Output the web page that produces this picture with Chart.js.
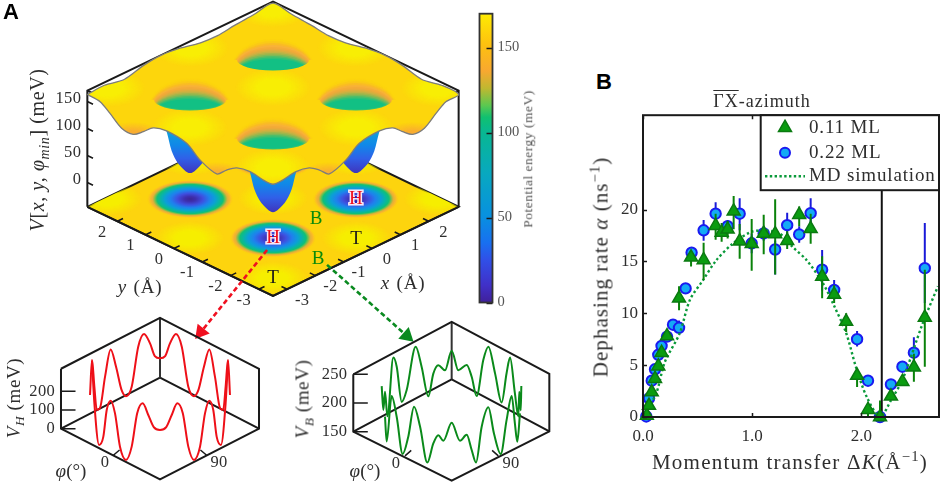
<!doctype html>
<html lang="en">
<head>
<meta charset="utf-8">
<title>Potential energy surface and dephasing rate</title>
<script src="https://cdn.jsdelivr.net/npm/chart.js@4"></script>
<style>
  html, body { margin: 0; background: #fff; overflow: hidden; }
  #page { position: relative; width: 941px; height: 484px; font-family: 'Liberation Serif', serif; color: #2e2e2e; }
  #page canvas { position: absolute; }
  .t { position: absolute; white-space: nowrap; line-height: 1; }
  .rot { transform: translate(-50%, -50%) rotate(-90deg); }
  .mid { transform: translate(-50%, -50%); }
  .letter { font-family: 'Liberation Sans', sans-serif; font-weight: bold; font-size: 22px; color: #000; }
  sup, sub { font-size: 70%; line-height: 0; }
  i { font-style: italic; }
</style>
</head>
<body>
<div id="page">
  <canvas id="surf" width="470" height="484" style="left:0;top:0"></canvas>
  <canvas id="bar" width="80" height="320" style="left:470px;top:0"></canvas>
  <canvas id="vh" width="280" height="174" style="left:0;top:310px"></canvas>
  <canvas id="vb" width="285" height="174" style="left:270px;top:310px"></canvas>
  <canvas id="rate" width="351" height="384" style="left:590px;top:100px"></canvas>

  <div class="t letter" style="left:3px;top:1px">A</div>
  <div class="t letter" style="left:596px;top:71px">B</div>
  <div class="t rot" style="left:37px;top:150px;font-size:20px;letter-spacing:.6px"><i>V</i>[<i>x, y, φ<sub>min</sub></i>] (meV)</div>
  <div class="t rot" style="left:528px;top:159px;font-size:13.5px;letter-spacing:.5px;color:#555">Potential energy (meV)</div>
  <div class="t rot" style="left:13px;top:398px;font-size:19px;letter-spacing:.6px"><i>V<sub>H</sub></i> (meV)</div>
  <div class="t rot" style="left:302px;top:399px;font-size:19px;letter-spacing:.6px"><i>V<sub>B</sub></i> (meV)</div>
  <div class="t mid" style="left:71px;top:470px;font-size:19px"><i>φ</i>(°)</div>
  <div class="t mid" style="left:365px;top:470px;font-size:19px"><i>φ</i>(°)</div>
  <div class="t mid" style="left:762px;top:101px;font-size:18px;letter-spacing:1px"><span style="text-decoration:overline">ΓX</span>-azimuth</div>
  <div class="t mid" style="left:790px;top:462px;font-size:21px;letter-spacing:1.25px">Momentum transfer Δ<i>K</i>(Å<sup>−1</sup>)</div>
  <div class="t rot" style="left:601px;top:267px;font-size:21px;letter-spacing:1.05px">Dephasing rate <i>α</i> (ns<sup>−1</sup>)</div>
</div>

<script>
// ---- panel A: surface
const axisMin = -3.5, axisMax = 3.06, floorV = -45, topV = 170
const meVperAngstrom = 0.0397

const vTicks = [0, 50, 100, 150]
const gridTicks = [-3, -2, -1, 0, 1, 2]

// surface height along the four box edges
const leftEdgeY = [3.06, 2.61, 2.26, 1.85, 1.44, 1.08, 0.73, 0.26, -0.45, -0.92, -1.51, -1.86, -2.22, -2.69, -3.16, -3.5]
const leftEdgeV = [163, 161, 148, 131, 130, 144, 160, 166, 161, 142, 131, 147, 160, 165, 161, 162]
const rightEdgeX = [-3.5, -3.16, -2.69, -2.22, -1.86, -1.51, -0.92, -0.45, 0.26, 0.73, 1.08, 1.44, 1.85, 2.26, 2.61, 3.06]
const rightEdgeV = [162, 161, 165, 160, 147, 131, 142, 161, 166, 160, 144, 130, 131, 148, 161, 163]
const backEdgeS = [-3.5, -2.9, -2.2, -1.5, -0.9, -0.2, 0.5, 1.1, 1.7, 2.4, 3.06]
const backLeftV = [163, 165, 158, 167, 170, 166, 158, 156, 160, 163, 167]
const backRightV = [163, 165, 158, 167, 170, 166, 158, 156, 160, 163, 167]

// one well seen below the surface: offset across the box and height
const dipU = [-1.3, -0.82, -0.65, -0.41, 0, 0.41, 0.65, 0.82, 1.3]
const dipV = [150, 78, 44, 20, 3, 20, 44, 78, 150]

// sites on the x, y plane
const wellX = [-1.37, 1.53, -1.4, 1.53]
const wellY = [-1.37, -1.4, 1.53, 1.53]
const topSiteX = [-2.85, 0.1, 3.0, -2.85, 0.1, 3.0, -2.85, 0.1, 3.0]
const topSiteY = [-2.85, -2.85, -2.85, 0.1, 0.1, 0.1, 3.0, 3.0, 3.0]
const edgeLowX = [-3.5, -3.5, 1.44, -1.51]
const edgeLowY = [1.44, -1.51, -3.5, -3.5]
const wellTopV = 148

const redArrowX = [-1.915, -6.1], redArrowY = [-1.705, -3.55]
const greenArrowX = [-1.4, -2.6], greenArrowY = [-3.31, -7.33]

// colour bar, meV to colour
const barLevels = [0, 10, 25, 35, 50, 75, 100, 108, 115, 125, 135, 150, 170]
const barColors = ['#40209a', '#4030c8', '#3050e8', '#1870f0', '#0890e0', '#08a8c0', '#08b890', '#10c070', '#5cc850', '#c0b830', '#f8a830', '#fdc010', '#ffef00']
const barTicks = [0, 50, 100, 150]

// ---- angular cuts
const hPhiBack = [-22.5, -20.6, -18.3, -16, -13, -8, -2.6, 2.6, 8, 12.2, 17.7, 24, 29.6, 35.4, 40, 45, 50, 54.6, 60.4, 66, 72.3, 77.8, 82, 87.4, 92.6, 98, 103, 106, 108.3, 110.6, 112.5]
const hBack = [100, 282, 132, 2, 2, 157, 287, 180, 39, -5, 30, 226, 278, 211, 130, 104, 130, 211, 278, 226, 30, -5, 39, 180, 287, 157, 2, 2, 132, 282, 100]
const hPhiFront = [-20.6, -18.3, -13.8, -9.7, -6.4, -2.6, 1.6, 6.4, 12.2, 17.7, 23, 28.3, 33.7, 39, 45, 51, 56.3, 61.7, 67, 72.3, 77.8, 83.6, 88.4, 92.6, 96.4, 99.7, 103.8, 108.3, 110.6]
const hFront = [448, 226, 16, 71, 224, 285, 229, 64, 10, 97, 291, 359, 312, 262, 264, 262, 312, 359, 291, 97, 10, 64, 229, 285, 224, 71, 16, 226, 448]

const bPhiBack = [-22.5, -20.9, -19.3, -17, -11.3, -8, -3.2, 1.6, 10.3, 16, 22.5, 27.3, 32.1, 38.6, 45, 51.4, 59.5, 64.3, 69.1, 75.5, 80.4, 86.8, 93.2, 98, 101.3, 106, 109.3, 110.2, 111.6, 112.2]
const bBack = [203, 160, 190, 145, 242, 223, 157, 173, 240, 200, 142, 177, 187, 172, 200, 172, 189, 173, 144, 213, 241, 201, 156, 212, 242, 184, 147, 191, 160, 203]
const bPhiFront = [-19.3, -17.7, -12.9, -8, -2.3, 3.2, 8.7, 14.5, 21.5, 27.3, 32.1, 37, 45, 53, 59.5, 64.3, 68.5, 73.9, 80.4, 85.8, 92.3, 98, 102.9, 106, 108.3, 110.9]
const bFront = [200, 158, 242, 210, 151, 187, 244, 215, 159, 198, 217, 212, 251, 212, 216, 185, 159, 216, 244, 193, 151, 205, 242, 191, 157, 204]

// ---- panel B
const rateTicksX = [0, 1, 2]
const rateTicksY = [0, 5, 10, 15, 20]
const boundaryK = 2.186

const k22 = [0.03, 0.055, 0.08, 0.11, 0.14, 0.17, 0.22, 0.275, 0.33, 0.39, 0.445, 0.555, 0.665, 0.775, 0.885, 0.995, 1.105, 1.21, 1.32, 1.43, 1.535, 1.64, 1.75, 1.96, 2.06, 2.17, 2.27, 2.375, 2.48, 2.58]
const rate22 = [0.05, 1.8, 3.5, 4.6, 6.0, 6.85, 7.75, 8.9, 8.6, 12.4, 15.85, 18.0, 19.6, 18.4, 19.6, 16.75, 17.7, 16.15, 18.5, 17.6, 19.65, 14.2, 12.25, 7.5, 3.5, 0, 3.15, 4.85, 6.2, 14.35]
const lo22 = [0, 1.6, 3.3, 4.4, 5.8, 6.6, 7.5, 8.6, 8.2, 12.1, 15.3, 17.0, 18.5, 17.8, 18.0, 15.8, 17.0, 13.75, 17.3, 16.8, 18.0, 12.2, 11.3, 6.8, 3.2, 0, 2.9, 4.6, 4.8, 11.0]
const hi22 = [0.2, 2.0, 3.7, 4.8, 6.2, 7.1, 8.0, 9.2, 9.3, 12.7, 16.4, 19.0, 20.7, 19.0, 21.1, 17.7, 18.4, 17.0, 19.7, 18.4, 21.1, 16.1, 13.2, 8.3, 3.8, 0.3, 3.4, 5.1, 7.7, 18.7]

const k11 = [0.035, 0.055, 0.08, 0.11, 0.14, 0.17, 0.22, 0.33, 0.44, 0.555, 0.665, 0.72, 0.775, 0.83, 0.885, 0.995, 1.105, 1.21, 1.32, 1.43, 1.535, 1.64, 1.75, 1.86, 1.96, 2.06, 2.17, 2.27, 2.375, 2.48, 2.58]
const rate11 = [0.15, 1.1, 2.4, 3.7, 4.9, 6.2, 7.8, 11.45, 15.4, 15.15, 18.45, 17.8, 18.1, 19.85, 16.95, 16.7, 17.7, 17.65, 17.0, 19.5, 18.15, 13.55, 11.8, 9.2, 4.0, 0.7, 0, 2.0, 3.4, 4.8, 9.6]
const lo11 = [0, 0.9, 2.2, 3.5, 4.7, 6.0, 7.6, 10.3, 14.5, 13.2, 17.1, 16.9, 17.2, 18.1, 15.25, 14.1, 15.7, 13.75, 16.2, 18.4, 16.7, 11.45, 11.0, 8.2, 2.9, 0, 0, 1.8, 3.2, 3.4, 4.85]
const hi11 = [0.3, 1.3, 2.6, 3.9, 5.1, 6.4, 8.0, 12.6, 16.0, 16.8, 19.6, 18.7, 18.9, 21.3, 18.6, 19.1, 19.5, 21, 17.9, 20.3, 19.6, 15.5, 12.7, 10, 4.7, 1.3, 1.6, 2.2, 3.6, 6.1, 14.2]

const kMd = [0, 0.12, 0.2, 0.335, 0.43, 0.55, 0.67, 0.82, 0.98, 1.1, 1.25, 1.37, 1.5, 1.65, 1.755, 1.86, 1.95, 2.05, 2.17, 2.27, 2.38, 2.56, 2.7]
const rateMd = [0, 2.25, 5.3, 8.05, 11.3, 13.2, 15.1, 16.7, 17.8, 18, 17.7, 16.4, 15.1, 12.85, 10.6, 8.1, 4.8, 1.9, 0, 1.6, 3.7, 9, 12.6]

const legendRows = ['0.11 ML', '0.22 ML', 'MD simulation']

// ---- shared stuff
const serif = 'Liberation Serif'
const textColor = '#2e2e2e'
const gap = { x: null, y: null }

function segments(list) {
  const out = []
  list.forEach(s => out.push(...s, gap))
  return out
}

function paintOrder(datasets) {
  datasets.forEach((d, i) => { d.order = datasets.length - i })
  return datasets
}

function hiddenScale(min, max) {
  return { type: 'linear', display: false, min, max }
}

function drawText(ctx, text, x, y, font, color, align, spacing) {
  ctx.save()
  ctx.font = font
  ctx.fillStyle = color || textColor
  ctx.textAlign = align || 'center'
  ctx.textBaseline = 'middle'
  if (spacing) ctx.letterSpacing = spacing
  ctx.fillText(text, x, y)
  ctx.restore()
}

// lets a dataset be clipped to the outline of another one
const clipPlugin = {
  id: 'clipTo',
  beforeDatasetDraw(chart, args) {
    const ds = chart.data.datasets[args.index]
    if (ds.clipTo === undefined) return
    const pts = chart.getDatasetMeta(ds.clipTo).data
    const ctx = chart.ctx
    ctx.save()
    ctx.beginPath()
    pts.forEach((p, i) => {
      if (i === 0) ctx.moveTo(p.x, p.y)
      else if (pts[i - 1].cp2x !== undefined && p.cp1x !== undefined) ctx.bezierCurveTo(pts[i - 1].cp2x, pts[i - 1].cp2y, p.cp1x, p.cp1y, p.x, p.y)
      else ctx.lineTo(p.x, p.y)
    })
    ctx.closePath()
    ctx.clip()
  },
  afterDatasetDraw(chart, args) {
    if (chart.data.datasets[args.index].clipTo !== undefined) chart.ctx.restore()
  }
}
Chart.register(clipPlugin)

function spriteCanvas(w, h, paint) {
  const c = document.createElement('canvas')
  c.width = w
  c.height = h
  paint(c.getContext('2d'), w, h)
  return c
}

function softSpot(w, h, color, edge) {
  return spriteCanvas(w, h, ctx => {
    ctx.translate(w / 2, h / 2)
    ctx.scale(1, h / w)
    const g = ctx.createRadialGradient(0, 0, 0, 0, 0, w / 2)
    g.addColorStop(0, color)
    g.addColorStop(0.4, color)
    g.addColorStop(1, edge)
    ctx.fillStyle = g
    ctx.beginPath()
    ctx.arc(0, 0, w / 2, 0, Math.PI * 2)
    ctx.fill()
  })
}

const floorWell = spriteCanvas(86, 38, (ctx, w, h) => {
  ctx.translate(w / 2, h / 2)
  ctx.scale(1, h / w)
  const g = ctx.createRadialGradient(0, 0, 0, 0, 0, w / 2)
  const stops = [[0, '#3b2795'], [0.13, '#3e2fae'], [0.3, '#3f4fe0'], [0.45, '#2080ee'], [0.58, '#0c9fd8'], [0.68, '#08b4a8'], [0.77, '#10c078'], [0.82, '#78c04c'], [0.87, '#e4b038'], [0.93, '#fbba28'], [1, 'rgba(253,205,20,0)']]
  stops.forEach(s => g.addColorStop(s[0], s[1]))
  ctx.fillStyle = g
  ctx.beginPath()
  ctx.arc(0, 0, w / 2, 0, Math.PI * 2)
  ctx.fill()
})

// nested rings, widest first, from the rim down to the green floor of the well
const wellRings = [
  [42, 32, 'rgba(252,205,20,0.25)'], [41.5, 30, 'rgba(250,195,30,0.55)'], [41, 28, 'rgba(249,185,40,0.85)'],
  [40, 26, '#f8b238'], [39.5, 24, '#f5ab38'], [39, 22.5, '#ecaa3a'], [38.5, 21, '#dcae3e'], [38, 19.5, '#c4b244'],
  [37.5, 18, '#a4b64a'], [37, 16.5, '#7cba58'], [36, 15, '#50be68'], [35, 13.5, '#2cc078'], [34, 12, '#12c084']
]

const surfaceWell = spriteCanvas(84, 34, ctx => {
  wellRings.forEach(r => {
    ctx.fillStyle = r[2]
    ctx.beginPath()
    ctx.ellipse(42, 33, r[0], r[1], 0, 0, Math.PI * 2)
    ctx.fill()
  })
  // the near lip has a hard edge: wipe what lies below its arc
  ctx.save()
  ctx.beginPath()
  ctx.rect(0, 22, 84, 12)
  ctx.clip()
  ctx.globalCompositeOperation = 'destination-out'
  ctx.beginPath()
  ctx.rect(0, 22, 84, 12)
  ctx.ellipse(42, 22, 36, 10.5, 0, 0, Math.PI * 2)
  ctx.fill('evenodd')
  ctx.restore()
})

// ---- surface chart
const pxU = 28.3, pxV = 13.6, apexU = 273, apexV = 296

function project(x, y, V) {
  return { x: x - y, y: x + y + 7 + (V - floorV) * meVperAngstrom }
}

const floorOutline = [project(axisMin, axisMax, floorV), project(axisMin, axisMin, floorV), project(axisMax, axisMin, floorV), project(axisMax, axisMax, floorV), project(axisMin, axisMax, floorV)]

const surfaceOutline = [
  ...leftEdgeY.map((y, i) => project(axisMin, y, leftEdgeV[i])),
  ...rightEdgeX.slice(1).map((x, i) => project(x, axisMin, rightEdgeV[i + 1])),
  ...backEdgeS.slice(1).map((y, i) => project(axisMax, y, backRightV[i + 1])),
  ...backEdgeS.slice(0, -1).reverse().map((x, i) => project(x, axisMax, backLeftV[backEdgeS.length - 2 - i]))
]

function dipShape(i) {
  return dipU.map((u, j) => {
    const p = project(wellX[i], wellY[i], dipV[j])
    return { x: p.x + u, y: p.y }
  })
}

function dipFill(i) {
  return c => {
    const py = V => apexV - pxV * project(wellX[i], wellY[i], V).y
    const g = c.chart.ctx.createLinearGradient(0, py(0), 0, py(100))
    g.addColorStop(0, '#4030b8')
    g.addColorStop(0.3, '#3060e8')
    g.addColorStop(0.55, '#1088e8')
    g.addColorStop(1, '#10b0d0')
    return g
  }
}

function sprite(xs, ys, V, style) {
  return { data: xs.map((x, i) => project(x, ys[i], Array.isArray(V) ? V[i] : V)), showLine: false, pointStyle: style, pointRadius: 10 }
}

function polyline(points, color, width, extra) {
  return Object.assign({ data: points, showLine: true, borderColor: color, borderWidth: width, pointRadius: 0, tension: 0, fill: false }, extra)
}

const axisTickSegments = segments([
  ...gridTicks.map(y => [project(axisMin, y, floorV), project(axisMin + 0.2, y, floorV)]),
  ...gridTicks.map(x => [project(x, axisMin, floorV), project(x, axisMin + 0.2, floorV)]),
  ...vTicks.map(V => [project(axisMin, axisMax, V), project(axisMin, axisMax - 0.2, V)])
])

const surfDatasets = [
  polyline(floorOutline, '#1a1a1a', 2, { fill: 'shape', backgroundColor: '#fdd40e' }),
  Object.assign(sprite(topSiteX, topSiteY, floorV, softSpot(70, 34, '#f6ee00', 'rgba(246,238,0,0)')), { clipTo: 0 }),
  sprite(wellX, wellY, floorV, floorWell),
  polyline([project(axisMin, axisMax, floorV), project(axisMin, axisMax, topV), project(axisMax, axisMax, topV), project(axisMax, axisMin, topV), project(axisMax, axisMin, floorV)], '#1a1a1a', 2),
  polyline([project(axisMin, axisMax, topV), project(axisMin, axisMin, topV), project(axisMax, axisMin, topV)], '#1a1a1a', 2),
  polyline(dipShape(0), '#1a90e8', 0, { fill: 'shape', backgroundColor: dipFill(0), tension: 0.3 }),
  polyline(dipShape(1), '#1a90e8', 0, { fill: 'shape', backgroundColor: dipFill(1), tension: 0.3 }),
  polyline(dipShape(2), '#1a90e8', 0, { fill: 'shape', backgroundColor: dipFill(2), tension: 0.3 }),
  polyline(surfaceOutline, '#808080', 0, { fill: 'shape', backgroundColor: '#fdd60c', tension: 0.3 })
]
const surfaceIndex = surfDatasets.length - 1

surfDatasets.push(
  Object.assign(sprite(topSiteX, topSiteY, wellTopV + 12, softSpot(76, 38, '#f8ee04', 'rgba(248,238,4,0)')), { clipTo: surfaceIndex }),
  Object.assign(sprite(edgeLowX, edgeLowY, 125, softSpot(60, 30, '#f9ad30', 'rgba(249,173,48,0)')), { clipTo: surfaceIndex }),
  sprite(wellX, wellY, wellTopV, surfaceWell),
  polyline(surfaceOutline.concat([surfaceOutline[0]]), '#7c7c7c', 1.3, { tension: 0.3 }),
  polyline(floorOutline.slice(0, 3), '#1a1a1a', 2),
  polyline(axisTickSegments, '#1a1a1a', 1.6),
  polyline(redArrowX.map((x, i) => project(x, redArrowY[i], floorV)), '#f01020', 2.6, { borderDash: [5, 3], pointRadius: [0, 9], pointStyle: 'triangle', pointRotation: 219, pointBackgroundColor: '#f01020', pointBorderWidth: 0 }),
  polyline(greenArrowX.map((x, i) => project(x, greenArrowY[i], floorV)), '#0a8a20', 2.6, { borderDash: [5, 3], pointRadius: [0, 9], pointStyle: 'triangle', pointRotation: 132, pointBackgroundColor: '#0a8a20', pointBorderWidth: 0 })
)
paintOrder(surfDatasets)

const surfLabels = {
  id: 'surfLabels',
  afterDatasetsDraw(chart) {
    const { ctx, scales } = chart
    const at = (x, y, V) => {
      const p = project(x, y, V)
      return [scales.x.getPixelForValue(p.x), scales.y.getPixelForValue(p.y)]
    }
    const tickFont = `16.5px "${serif}"`
    vTicks.forEach(V => {
      const [px, py] = at(axisMin, axisMax, V)
      drawText(ctx, String(V), px - 6, py - 3, tickFont, textColor, 'right', '.4px')
    })
    gridTicks.forEach(t => {
      const name = t < 0 ? '-' + (-t) : String(t)
      let [px, py] = at(axisMin, t, floorV)
      drawText(ctx, name, px - 15, py + 11, tickFont, textColor, 'center', '.4px')
      ;[px, py] = at(t, axisMin, floorV)
      drawText(ctx, name, px + 15, py + 11, tickFont, textColor, 'center', '.4px')
    })
    const big = `19px "${serif}"`
    drawText(ctx, 'y', 122, 288, `italic ${big}`, textColor, 'center')
    drawText(ctx, '(Å)', 148, 288, big, textColor, 'center', '.8px')
    drawText(ctx, 'x', 385, 284, `italic ${big}`, textColor, 'center')
    drawText(ctx, '(Å)', 411, 284, big, textColor, 'center', '.8px')

    const siteLabels = [[-1.37, -1.37], [1.53, -1.4]]
    siteLabels.forEach(s => {
      const [px, py] = at(s[0], s[1], floorV)
      ctx.save()
      ctx.font = `19px "${serif}"`
      ctx.textAlign = 'center'
      ctx.textBaseline = 'middle'
      ctx.lineWidth = 3
      ctx.strokeStyle = '#f4e8f8'
      ctx.strokeText('H', px, py)
      ctx.fillStyle = '#f0101c'
      ctx.fillText('H', px, py)
      ctx.fillStyle = '#2020c0'
      ctx.fillRect(px - 1, py - 3, 2, 2)
      ctx.fillRect(px - 1, py + 2, 2, 2)
      ctx.restore()
    })
    const label = `19px "${serif}"`
    drawText(ctx, 'B', 316, 219, label, '#0a8a0a')
    drawText(ctx, 'B', 318, 259, label, '#0a8a0a')
    drawText(ctx, 'T', 356, 239, label, '#1a1a1a')
    drawText(ctx, 'T', 273, 278, label, '#1a1a1a')
  }
}

new Chart(document.getElementById('surf'), {
  type: 'scatter',
  data: { datasets: surfDatasets },
  plugins: [surfLabels],
  options: {
    responsive: false,
    animation: false,
    layout: { padding: 0, autoPadding: false },
    plugins: { legend: { display: false }, tooltip: { enabled: false } },
    scales: {
      x: hiddenScale(-apexU / pxU, (470 - apexU) / pxU),
      y: hiddenScale((apexV - 484) / pxV, apexV / pxV)
    }
  }
})

// ---- colour bar
const innerTicks = {
  id: 'innerTicks',
  afterDatasetsDraw(chart, args, opts) {
    const { ctx, chartArea: a, scales } = chart
    ctx.save()
    ctx.strokeStyle = opts.color || '#1a1a1a'
    ctx.lineWidth = opts.width || 1.5
    const len = opts.length || 4
    if (opts.y) {
      scales.y.ticks.forEach(t => {
        const py = Math.round(scales.y.getPixelForValue(t.value)) + 0.5
        ctx.beginPath()
        if (opts.y === 'left') { ctx.moveTo(a.left, py); ctx.lineTo(a.left + len, py) }
        else { ctx.moveTo(a.right, py); ctx.lineTo(a.right - len, py) }
        ctx.stroke()
      })
    }
    if (opts.x) {
      scales.x.ticks.forEach(t => {
        const px = Math.round(scales.x.getPixelForValue(t.value)) + 0.5
        ctx.beginPath()
        ctx.moveTo(px, a.bottom); ctx.lineTo(px, a.bottom - len)
        ctx.moveTo(px, a.top); ctx.lineTo(px, a.top + len)
        ctx.stroke()
      })
    }
    ctx.strokeStyle = opts.frame || '#1a1a1a'
    ctx.lineWidth = opts.frameWidth || 2
    ctx.strokeRect(a.left, a.top, a.right - a.left, a.bottom - a.top)
    ctx.restore()
  }
}

new Chart(document.getElementById('bar'), {
  type: 'bar',
  data: {
    labels: ['meV'],
    datasets: [{
      data: [[0, 170]],
      barPercentage: 1,
      categoryPercentage: 1,
      backgroundColor: c => {
        const g = c.chart.ctx.createLinearGradient(0, 302.5, 0, 11)
        barLevels.forEach((v, i) => g.addColorStop(v / 170, barColors[i]))
        return g
      }
    }]
  },
  plugins: [innerTicks],
  options: {
    responsive: false,
    animation: false,
    layout: { padding: { left: 9.5, top: 11, bottom: 17.5, right: 0 }, autoPadding: false },
    plugins: { legend: { display: false }, tooltip: { enabled: false }, innerTicks: { y: 'right', length: 6, frameWidth: 1.8, frame: '#333' } },
    scales: {
      x: { display: false },
      y: {
        position: 'right',
        min: 0,
        max: 170,
        afterFit: s => { s.width = 57.5 },
        afterBuildTicks: s => { s.ticks = barTicks.map(value => ({ value })) },
        grid: { display: false, drawTicks: false },
        border: { display: false },
        ticks: { padding: 5, color: '#555', font: { family: serif, size: 14.5 } }
      }
    }
  }
})

// ---- the two small angular plots
function angularChart(id, cfg) {
  const skew = cfg.slope / cfg.pxMeV
  const depth = (cfg.frontY - cfg.backY) / cfg.pxMeV
  const back = (phi, V) => ({ x: phi, y: V - cfg.V0 - skew * Math.abs(phi - 45) })
  const front = (phi, V) => ({ x: phi, y: V - cfg.V0 + skew * Math.abs(phi - 45) - depth })
  const canvas = document.getElementById(id)
  const L = cfg.phiL, R = cfg.phiR, T = cfg.Vtop, F = cfg.V0

  const datasets = paintOrder([
    polyline([back(L, F), back(45, F), back(R, F)], '#1a1a1a', 2),
    polyline([back(45, F), back(45, T)], '#333', 2),
    polyline([back(L, T), back(45, T), back(R, T), back(R, F), front(45, F), back(L, F), back(L, T)], '#1a1a1a', 2),
    polyline(segments([
      ...cfg.vTicks.map(v => [back(L, v), { x: L + 14, y: back(L, v).y }]),
      ...cfg.phiTicks.map(p => [front(p, F), { x: p + (p < 45 ? 6 : -6), y: front(p, F).y + 10 * skew }])
    ]), '#1a1a1a', 1.5),
    polyline(cfg.phiBack.map((p, i) => back(p, cfg.back[i])), cfg.color, 2, { cubicInterpolationMode: 'monotone' }),
    polyline(cfg.phiFront.map((p, i) => front(p, cfg.front[i])), cfg.color, 2, { cubicInterpolationMode: 'monotone' })
  ])

  new Chart(canvas, {
    type: 'scatter',
    data: { datasets },
    plugins: [{
      id: 'angularLabels',
      afterDatasetsDraw(chart) {
        const { ctx, scales } = chart
        const font = `16.5px "${serif}"`
        cfg.vTicks.forEach(v => {
          const p = back(L, v)
          drawText(ctx, String(v), scales.x.getPixelForValue(p.x) - 6, scales.y.getPixelForValue(p.y), font, textColor, 'right', '.3px')
        })
        cfg.phiTicks.forEach(phi => {
          drawText(ctx, String(phi), cfg.labelX[phi], cfg.labelY, font, textColor, 'center', '.3px')
        })
      }
    }],
    options: {
      responsive: false,
      animation: false,
      layout: { padding: 0, autoPadding: false },
      plugins: { legend: { display: false }, tooltip: { enabled: false } },
      scales: {
        x: hiddenScale(45 - cfg.cx / cfg.pxDeg, 45 + (canvas.width - cfg.cx) / cfg.pxDeg),
        y: hiddenScale((cfg.backY - canvas.height) / cfg.pxMeV, cfg.backY / cfg.pxMeV)
      }
    }
  })
}

angularChart('vh', {
  cx: 160, pxDeg: 1.0367, backY: 67.7, frontY: 169.3, slope: 0.5337, pxMeV: 0.1867,
  V0: 0, Vtop: 321, phiL: -50.5, phiR: 140.5,
  vTicks: [0, 100, 200], phiTicks: [0, 90], labelX: { 0: 105, 90: 219 }, labelY: 153,
  phiBack: hPhiBack, back: hBack, phiFront: hPhiFront, front: hFront, color: '#ee1018'
})
angularChart('vb', {
  cx: 181.67, pxDeg: 1.0367, backY: 69.3, frontY: 170.7, slope: 0.5517, pxMeV: 0.5733,
  V0: 150, Vtop: 250, phiL: -49.9, phiR: 139.2,
  vTicks: [150, 200, 250], phiTicks: [0, 90], labelX: { 0: 126, 90: 241 }, labelY: 154,
  phiBack: bPhiBack, back: bBack, phiFront: bPhiFront, front: bFront, color: '#0a8a1a'
})

// ---- panel B
const errorBars = (k, lo, hi) => segments(k.map((v, i) => [{ x: v, y: lo[i] }, { x: v, y: hi[i] }]))
const points = (k, rate) => k.map((v, i) => ({ x: v, y: rate[i] }))

const triangleFill = '#0a9c10', triangleEdge = '#0a7a10'
const circleFill = '#14aaf5', circleEdge = '#1a1af0'

const rateLegend = {
  id: 'rateLegend',
  afterDatasetsDraw(chart) {
    const { ctx, chartArea: a } = chart
    const left = a.left + 117.7, bottom = a.top + 75
    ctx.save()
    ctx.fillStyle = '#fff'
    ctx.fillRect(left, a.top, a.right - left, bottom - a.top)
    ctx.strokeStyle = '#1a1a1a'
    ctx.lineWidth = 2
    ctx.strokeRect(left, a.top, a.right - left, bottom - a.top)
    const ys = [a.top + 12.5, a.top + 37.5, a.top + 61]
    const mx = a.left + 142
    ctx.fillStyle = triangleFill
    ctx.strokeStyle = triangleEdge
    ctx.lineWidth = 1.5
    Chart.helpers.drawPoint(ctx, { pointStyle: 'triangle', radius: 7.5, rotation: 0, borderWidth: 1.5 }, mx, ys[0])
    ctx.fillStyle = circleFill
    ctx.strokeStyle = circleEdge
    ctx.lineWidth = 2
    Chart.helpers.drawPoint(ctx, { pointStyle: 'circle', radius: 5, rotation: 0, borderWidth: 2 }, mx, ys[1])
    ctx.strokeStyle = '#0a9a3a'
    ctx.lineWidth = 2.4
    ctx.setLineDash([2.4, 2.4])
    ctx.beginPath()
    ctx.moveTo(a.left + 122, ys[2])
    ctx.lineTo(a.left + 162, ys[2])
    ctx.stroke()
    ctx.restore()
    legendRows.forEach((row, i) => drawText(ctx, row, a.left + 166, ys[i], `19px "${serif}"`, textColor, 'left', '.85px'))
  }
}

const rateDatasets = paintOrder([
  polyline([{ x: boundaryK, y: 0 }, { x: boundaryK, y: 29.1 }], '#111', 2),
  polyline(errorBars(k22, lo22, hi22), '#1a1ad8', 2),
  { data: points(k22, rate22), pointStyle: 'circle', pointRadius: 5.2, pointBackgroundColor: circleFill, pointBorderColor: circleEdge, pointBorderWidth: 2, showLine: false, clip: false },
  polyline(points(kMd, rateMd), '#0a9a3a', 2.4, { borderDash: [2.4, 2.6], tension: 0.3 }),
  polyline(errorBars(k11, lo11, hi11), '#0a820a', 2),
  { data: points(k11, rate11), pointStyle: 'triangle', pointRadius: 7.5, pointBackgroundColor: triangleFill, pointBorderColor: triangleEdge, pointBorderWidth: 1.5, showLine: false, clip: false }
])

new Chart(document.getElementById('rate'), {
  type: 'scatter',
  data: { datasets: rateDatasets },
  plugins: [innerTicks, rateLegend],
  options: {
    responsive: false,
    animation: false,
    layout: { padding: { top: 14.5, right: 2, left: 0, bottom: 0 }, autoPadding: false },
    plugins: { legend: { display: false }, tooltip: { enabled: false }, innerTicks: { x: true, y: 'left', length: 4 } },
    scales: {
      x: {
        type: 'linear',
        min: 0,
        max: 2.71,
        afterFit: s => { s.height = 67 },
        afterBuildTicks: s => { s.ticks = rateTicksX.map(value => ({ value })) },
        grid: { display: false, drawTicks: false },
        border: { display: false },
        ticks: { color: textColor, padding: 9, maxRotation: 0, font: { family: serif, size: 17 }, callback: v => v.toFixed(1) }
      },
      y: {
        type: 'linear',
        min: 0,
        max: 29.1,
        afterFit: s => { s.width = 53 },
        afterBuildTicks: s => { s.ticks = rateTicksY.map(value => ({ value })) },
        grid: { display: false, drawTicks: false },
        border: { display: false },
        ticks: { color: textColor, padding: 5, font: { family: serif, size: 17 } }
      }
    }
  }
})
</script>
</body>
</html>
